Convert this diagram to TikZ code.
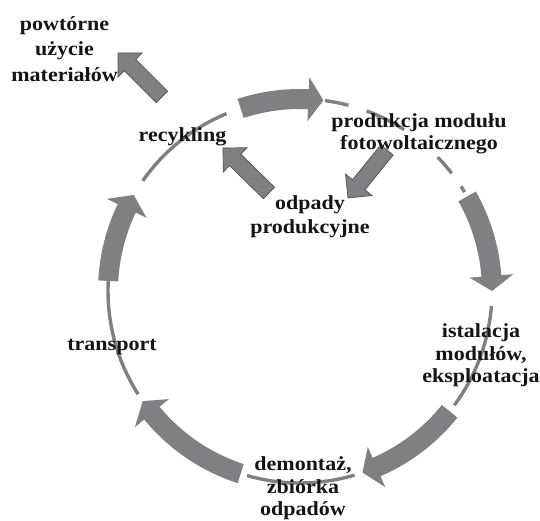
\documentclass[tikz,border=0pt]{standalone}
\usepackage{fontspec}
\usetikzlibrary{calc}
\newfontfamily\lblfont{Liberation Serif}[FakeStretch=1.1]
\definecolor{ringgray}{RGB}{128,128,130}
\definecolor{edgegray}{RGB}{80,80,82}
\definecolor{inkblack}{RGB}{20,20,20}

% stacked, centred label lines; #1 = line distance
\newcommand\stack[2]{\fontsize{20}{#1}\selectfont\begin{tabular}[t]{@{}c@{}}#2\end{tabular}}

% thick curved arrow on the ring: #1 tail angle, #2 tip angle (clockwise)
\newcommand\ringarrow[2]{%
  \pgfmathsetmacro\headang{#2+4.5}%
  \fill[ringgray] (#1:202pt) arc[start angle=#1,end angle=\headang,radius=202pt]
    -- (\headang:214pt) -- (#2:192pt) -- (\headang:170pt) -- (\headang:182pt)
    arc[start angle=\headang,end angle=#1,radius=182pt] -- cycle;}

% thin stretch of the ring between two angles
\newcommand\ringline[2]{%
  \draw[ringgray,line width=3.4pt] (#1:192pt) arc[start angle=#1,end angle=#2,radius=192pt];}

% straight block arrow: #1 tip, #2 tail
\newcommand\blockarrow[2]{%
  \filldraw[fill=ringgray,draw=edgegray,line width=0.7pt,line join=miter]
    (#1) -- ($(#1)!17pt!(#2)!17pt!90:(#2)$) -- ($(#1)!17pt!(#2)!8pt!90:(#2)$)
    -- ($(#2)!8pt!-90:(#1)$) -- ($(#2)!8pt!90:(#1)$)
    -- ($(#1)!17pt!(#2)!8pt!-90:(#2)$) -- ($(#1)!17pt!(#2)!17pt!-90:(#2)$) -- cycle;}

\begin{document}
\begin{tikzpicture}[x=1pt,y=1pt,
  lbl/.style={inner sep=0pt,anchor=base,text=inkblack,font=\lblfont\bfseries\fontsize{20}{23}\selectfont}]
\useasboundingbox (0,0) rectangle (540,521);
\fill[white] (0,0) rectangle (540,521);

% the life-cycle ring
\begin{scope}[shift={(300,230)}]
  \ringline{82.5}{75.4}
  \ringline{69.7}{57.2}
  \ringline{44.2}{37.8}
  \ringline{33}{31}
  \ringline{-4.5}{-36.5}
  \ringline{-73.5}{-106}
  \ringline{-147.5}{-184.5}
  \ringline{145}{112.5}
  \ringarrow{108}{83}
  \ringarrow{29.5}{0}
  \ringarrow{-38.8}{-71}
  \ringarrow{-108}{-145}
  \ringarrow{177}{150}
\end{scope}

% side streams
\coordinate (reuseTip) at (118,468);
\coordinate (reuseTail) at (162,424);
\coordinate (wasteTip) at (223,373);
\coordinate (wasteTail) at (269,328);
\coordinate (prodTip) at (348,323);
\coordinate (prodTail) at (387,371);
\blockarrow{reuseTip}{reuseTail}
\blockarrow{wasteTip}{wasteTail}
\blockarrow{prodTip}{prodTail}

% labels
\node[lbl] (reuse) at (64.5,490.5) {\stack{25.5}{powtórne\\użycie\\materiałów}};
\node[lbl] (recycle) at (182.5,379.5) {recykling};
\node[lbl] (production) at (419,393.5) {\stack{22}{produkcja modułu\\fotowoltaicznego}};
\node[lbl] (waste) at (310,311.5) {\stack{24}{odpady\\produkcyjne}};
\node[lbl] (install) at (481,183) {\stack{22.5}{istalacja\\modułów,\\eksploatacja}};
\node[lbl] (transport) at (112,170) {transport};
\node[lbl] (dismantle) at (303,50) {\stack{22.5}{demontaż,\\zbiórka\\odpadów}};
\end{tikzpicture}
\end{document}
